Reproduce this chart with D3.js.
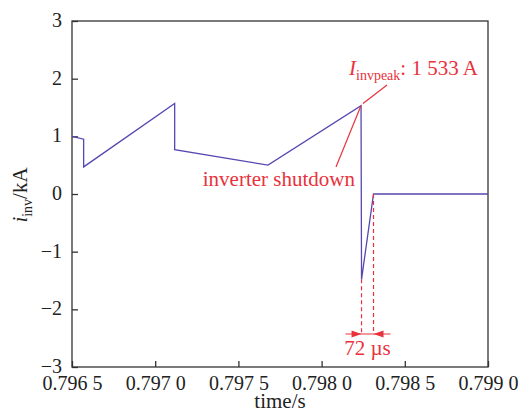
<!DOCTYPE html>
<html><head><meta charset="utf-8">
<script src="https://cdn.jsdelivr.net/npm/d3@7"></script>
<style>body{margin:0;background:#fff}svg{display:block}text{font-family:"Liberation Serif","Times New Roman",serif}</style>
</head><body><svg id="c" width="522" height="414"></svg>
<script>
// data
const time = [0.79650, 0.79657, 0.79657, 0.797117, 0.797117, 0.797678, 0.798237, 0.798240, 0.798312, 0.79900];
const current = [1.00, 0.95, 0.47, 1.57, 0.77, 0.50, 1.533, -1.48, 0.00, 0.00];
const xTicks = [0.7965, 0.7970, 0.7975, 0.7980, 0.7985, 0.7990];
const xTickLabels = ["0.796 5", "0.797 0", "0.797 5", "0.798 0", "0.798 5", "0.799 0"];
const yTicks = [-3, -2, -1, 0, 1, 2, 3];
const peakTime = 0.798237, peakVal = 1.533;
const shutdownEnd = 0.798312;

const svg = d3.select("#c");
const L = 72, R = 488, T = 21, B = 367;
const x = d3.scaleLinear().domain([0.7965, 0.7990]).range([L, R]);
const y = d3.scaleLinear().domain([-3, 3]).range([B, T]);
const axisCol = "#333", lineCol = "#5548b0", red = "#e8323c";

// frame
svg.append("rect").attr("x", L).attr("y", T).attr("width", R - L).attr("height", B - T)
  .attr("fill", "none").attr("stroke", axisCol).attr("stroke-width", 1.3);

const gx = svg.append("g").attr("transform", `translate(0,${B})`)
  .call(d3.axisBottom(x).tickValues(xTicks).tickSize(-6).tickPadding(9)
    .tickFormat((d, i) => xTickLabels[i]));
const gy = svg.append("g").attr("transform", `translate(${L},0)`)
  .call(d3.axisLeft(y).tickValues(yTicks).tickSize(-6).tickPadding(10)
    .tickFormat(d => d < 0 ? "\u2212" + Math.abs(d) : String(d)));
[gx, gy].forEach(g => {
  g.select(".domain").remove();
  g.selectAll(".tick line").attr("stroke", axisCol).attr("stroke-width", 1.3);
  g.selectAll(".tick text").attr("fill", "#222").style("font-size", "20px");
});
gx.selectAll(".tick text").attr("dy", "0.71em");
gy.selectAll(".tick text").attr("dy", "0.27em");

// line
const pts = time.map((t, i) => [t, current[i]]);
svg.append("path").datum(pts)
  .attr("d", d3.line().x(d => x(d[0])).y(d => y(d[1])))
  .attr("fill", "none").attr("stroke", lineCol).attr("stroke-width", 1.3);

// dashed red verticals
const minVal = current[7];
const arrowY = 334;
svg.append("line").attr("x1", x(time[7])).attr("x2", x(time[7]))
  .attr("y1", y(minVal)).attr("y2", arrowY)
  .attr("stroke", red).attr("stroke-width", 1.2).attr("stroke-dasharray", "4,3");
svg.append("line").attr("x1", x(shutdownEnd)).attr("x2", x(shutdownEnd))
  .attr("y1", y(0)).attr("y2", arrowY)
  .attr("stroke", red).attr("stroke-width", 1.2).attr("stroke-dasharray", "4,3");

// dimension arrows
const xa = x(time[7]), xb = x(shutdownEnd);
svg.append("line").attr("x1", xa - 16).attr("x2", xb + 17).attr("y1", arrowY).attr("y2", arrowY)
  .attr("stroke", red).attr("stroke-width", 1.2);
svg.append("path").attr("d", `M${xa},${arrowY} L${xa - 10},${arrowY - 3.5} L${xa - 10},${arrowY + 3.5} Z`).attr("fill", red);
svg.append("path").attr("d", `M${xb},${arrowY} L${xb + 10},${arrowY - 3.5} L${xb + 10},${arrowY + 3.5} Z`).attr("fill", red);
svg.append("text").attr("x", (xa + xb) / 2).attr("y", 355).attr("text-anchor", "middle")
  .attr("fill", red).style("font-size", "21px").text("72 \u00b5s");

// leaders
const px = x(peakTime), py = y(peakVal);
svg.append("line").attr("x1", px + 2).attr("y1", py - 2).attr("x2", 387).attr("y2", 85)
  .attr("stroke", red).attr("stroke-width", 1.2);
svg.append("line").attr("x1", px).attr("y1", py).attr("x2", 336).attr("y2", 167)
  .attr("stroke", red).attr("stroke-width", 1.2);

const t1 = svg.append("text").attr("x", 349).attr("y", 75).attr("fill", red).style("font-size", "21px");
t1.append("tspan").attr("font-style", "italic").text("I");
t1.append("tspan").attr("dy", 5).style("font-size", "14px").text("invpeak");
t1.append("tspan").attr("dy", -5).text(": 1 533 A");

svg.append("text").attr("x", 355).attr("y", 186).attr("text-anchor", "end")
  .attr("fill", red).style("font-size", "21px").text("inverter shutdown");

// axis titles
svg.append("text").attr("x", 280).attr("y", 408).attr("text-anchor", "middle")
  .attr("fill", "#222").style("font-size", "21px").text("time/s");
const yl = svg.append("text").attr("transform", "translate(27,195) rotate(-90)")
  .attr("text-anchor", "middle").attr("fill", "#222").style("font-size", "21px");
yl.append("tspan").attr("font-style", "italic").text("i");
yl.append("tspan").attr("dy", 5).style("font-size", "14px").text("inv");
yl.append("tspan").attr("dy", -5).text("/kA");
</script></body></html>
